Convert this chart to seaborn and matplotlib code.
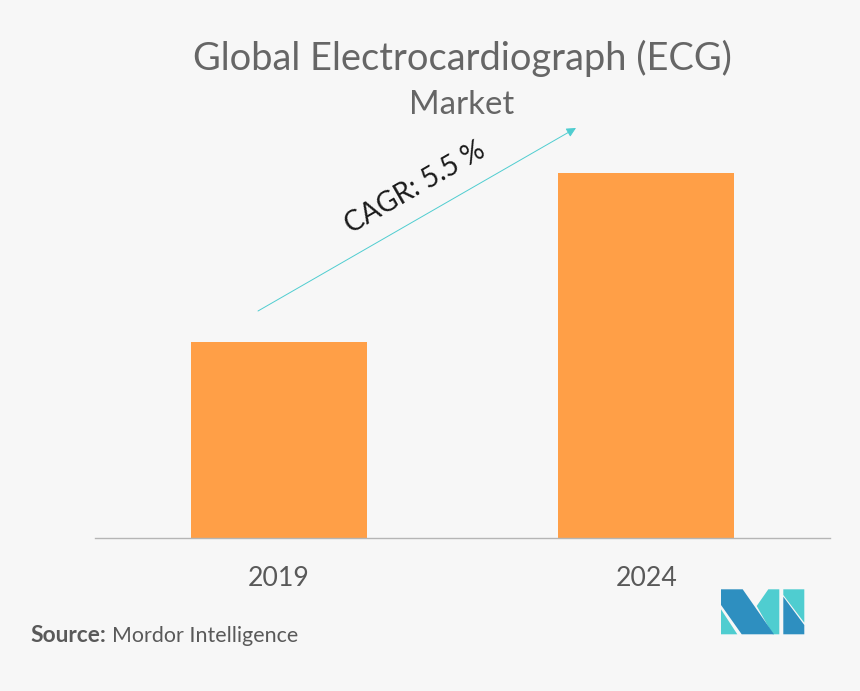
# -*- coding: utf-8 -*-
"""
Global Electrocardiograph (ECG) Market - barras 2019 x 2024
"""

import pandas as pd
import matplotlib.pyplot as plt # para desenhar textos e formas
from matplotlib.patches import Polygon, FancyArrowPatch
import seaborn as sns # para criar o gráfico de barras

# Dados
anos = ['2019', '2024']
valores = [1.0, 1.86]

# Configurações de visualização
sns.set_style("white")
plt.rcParams['figure.figsize'] = (8.6, 6.91)
plt.rcParams['figure.dpi'] = 100
plt.rcParams['font.family'] = ['Lato', 'DejaVu Sans']
plt.rcParams['figure.facecolor'] = '#f7f7f7'
plt.rcParams['axes.facecolor'] = '#f7f7f7'

def px(x, y):
    """Converte pixels da imagem em coordenadas da figura"""
    return (x / 860, 1 - y / 691)

def grafico_barras(fig):
    """Desenha as barras e o eixo"""
    ax = fig.add_axes([95 / 860, 153 / 691, 735 / 860, 400 / 691])
    df = pd.DataFrame({'ano': anos, 'valor': valores})
    sns.barplot(data=df, x='ano', y='valor', color='#ff9f47', saturation=1, width=0.479, linewidth=0, ax=ax)

    ax.set_xlim(-0.5, 1.5)
    ax.set_ylim(0, 400 / 196)
    ax.set_xlabel('')
    ax.set_ylabel('')
    ax.set_yticks([])
    ax.tick_params(axis='x', length=0, pad=20, labelsize=19.2, labelcolor='#595959')
    sns.despine(ax=ax, left=True)
    ax.spines['bottom'].set_color('#b5b5b5')
    ax.spines['bottom'].set_linewidth(1)

def textos(fig):
    """Título, CAGR e fonte"""
    x, y = px(462, 58)
    fig.text(x, y, 'Global Electrocardiograph (ECG)', ha='center', va='center', fontsize=27.4, color='#666666')
    x, y = px(462, 105)
    fig.text(x, y, 'Market', ha='center', va='center', fontsize=23.8, color='#666666')

    # Seta do crescimento
    fig.add_artist(FancyArrowPatch(
        px(258, 311), px(576, 128), transform=fig.transFigure,
        arrowstyle='-|>', mutation_scale=14, color='#4fcdd0', linewidth=0.7, shrinkA=0, shrinkB=0))
    x, y = px(415, 188)
    fig.text(x, y, 'CAGR: 5.5 %', ha='center', va='center', rotation=30, rotation_mode='anchor',
             fontsize=20, color='#1a1a1a')

    x, y = px(30, 636)
    fig.text(x, y, 'Source:', ha='left', va='center', fontsize=16.4, fontweight='bold', color='#595959')
    x, y = px(112, 636)
    fig.text(x, y, 'Mordor Intelligence', ha='left', va='center', fontsize=15.4, color='#595959')

def logotipo(fig):
    """Logotipo no canto inferior direito"""
    claro = '#4fcdd0'
    escuro = '#2e8fc0'
    formas = [
        ([(721, 609.3), (737.3, 634.3), (721, 634.3)], claro),
        ([(768.3, 589.3), (779.3, 589.3), (779.3, 634.3), (772.7, 634.3), (756.7, 606)], claro),
        ([(721, 589.3), (742.7, 589.3), (774, 634.3), (741.7, 634.3), (721, 605)], escuro),
        ([(783.3, 589.3), (804.3, 589.3), (804.3, 622.7), (783.3, 595)], claro),
        ([(783.3, 596.7), (804.3, 625), (804.3, 634.3), (783.3, 634.3)], escuro),
    ]
    for pontos, cor in formas:
        fig.add_artist(Polygon([px(*p) for p in pontos], closed=True, facecolor=cor,
                               edgecolor='none', transform=fig.transFigure))

if __name__ == "__main__":
    fig = plt.figure()
    grafico_barras(fig)
    textos(fig)
    logotipo(fig)
    plt.savefig('out.png', dpi=100)
